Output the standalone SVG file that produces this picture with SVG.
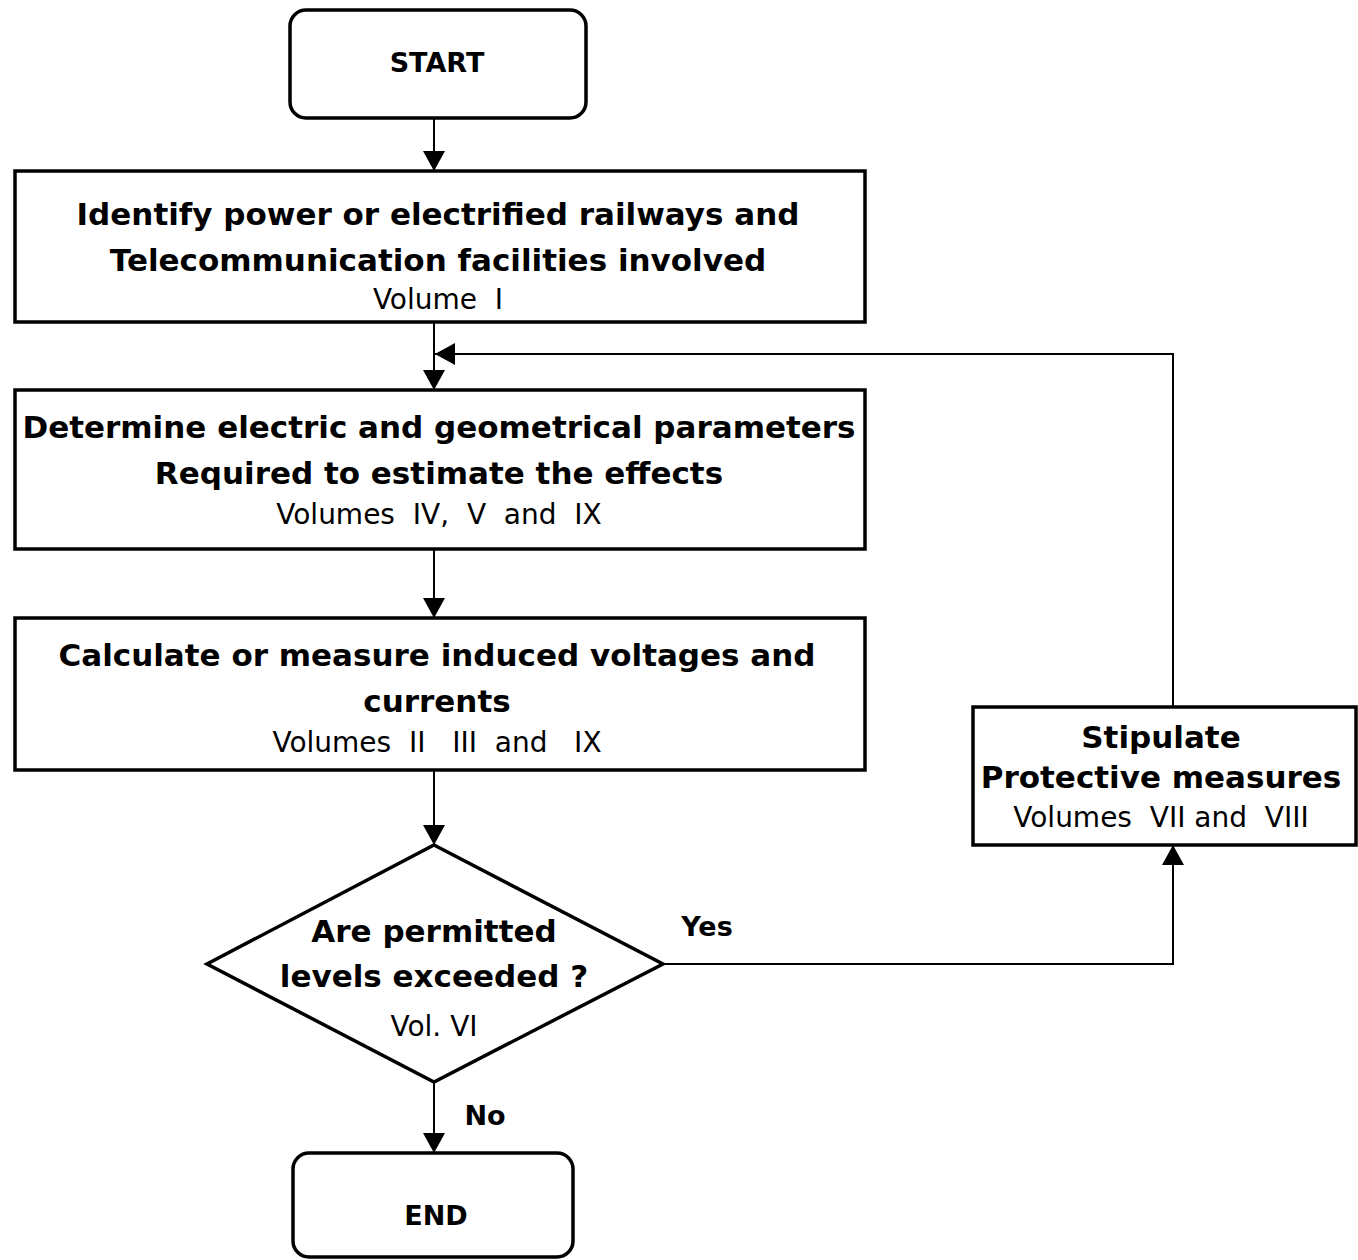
<svg xmlns="http://www.w3.org/2000/svg" width="1358" height="1260" viewBox="0 0 1358 1260">
<style>
.box{fill:#fff;stroke:#000;stroke-width:3.5}
.ln{fill:none;stroke:#000;stroke-width:2}
.b{font-family:"DejaVu Sans",Verdana,sans-serif;font-weight:bold;font-size:31px;text-anchor:middle;fill:#000;white-space:pre}
.r{font-family:"DejaVu Sans",Verdana,sans-serif;font-size:28px;text-anchor:middle;fill:#000;white-space:pre}
.s{font-family:"DejaVu Sans",Verdana,sans-serif;font-weight:bold;font-size:27px;text-anchor:middle;fill:#000}
</style>
<defs>
<marker id="ah" viewBox="0 0 20 22" refX="20" refY="11" markerWidth="20" markerHeight="22" markerUnits="userSpaceOnUse" orient="auto">
<path d="M0,0 L20,11 L0,22 Z" fill="#000"/>
</marker>
</defs>
<rect width="1358" height="1260" fill="#fff"/>
<g id="connectors">
<line class="ln" x1="434" y1="118" x2="434" y2="171" marker-end="url(#ah)"/>
<line class="ln" x1="434" y1="322" x2="434" y2="390" marker-end="url(#ah)"/>
<polyline class="ln" points="1173,707 1173,354 435,354" marker-end="url(#ah)"/>
<line class="ln" x1="434" y1="549" x2="434" y2="618" marker-end="url(#ah)"/>
<line class="ln" x1="434" y1="770" x2="434" y2="845" marker-end="url(#ah)"/>
<polyline class="ln" points="663,964 1173,964 1173,845" marker-end="url(#ah)"/>
<line class="ln" x1="434" y1="1082" x2="434" y2="1153" marker-end="url(#ah)"/>
<text class="s" x="707" y="936">Yes</text>
<text class="s" x="485" y="1125">No</text>
</g>
<g id="start">
<rect class="box" x="290" y="10" width="296" height="108" rx="16"/>
<text class="s" x="437" y="72">START</text>
</g>
<g id="identify">
<rect class="box" x="15" y="171" width="850" height="151"/>
<text class="b" x="438" y="225">Identify power or electrified railways and</text>
<text class="b" x="438" y="271">Telecommunication facilities involved</text>
<text class="r" x="438" y="309">Volume  I</text>
</g>
<g id="determine">
<rect class="box" x="15" y="390" width="850" height="159"/>
<text class="b" x="439" y="438">Determine electric and geometrical parameters</text>
<text class="b" x="439" y="484">Required to estimate the effects</text>
<text class="r" x="439" y="524">Volumes  IV,  V  and  IX</text>
</g>
<g id="calculate">
<rect class="box" x="15" y="618" width="850" height="152"/>
<text class="b" x="437" y="666">Calculate or measure induced voltages and</text>
<text class="b" x="437" y="712">currents</text>
<text class="r" x="437" y="752">Volumes  II   III  and   IX</text>
</g>
<g id="decision">
<polygon class="box" points="434,845 663,964 434,1082 207,964"/>
<text class="b" x="434" y="942">Are permitted</text>
<text class="b" x="434" y="987">levels exceeded ?</text>
<text class="r" x="434" y="1036">Vol. VI</text>
</g>
<g id="stipulate">
<rect class="box" x="973" y="707" width="383" height="138"/>
<text class="b" x="1161" y="748">Stipulate</text>
<text class="b" x="1161" y="788">Protective measures</text>
<text class="r" x="1161" y="827">Volumes  VII and  VIII</text>
</g>
<g id="end">
<rect class="box" x="293" y="1153" width="280" height="104" rx="16"/>
<text class="s" x="436" y="1225">END</text>
</g>
</svg>
